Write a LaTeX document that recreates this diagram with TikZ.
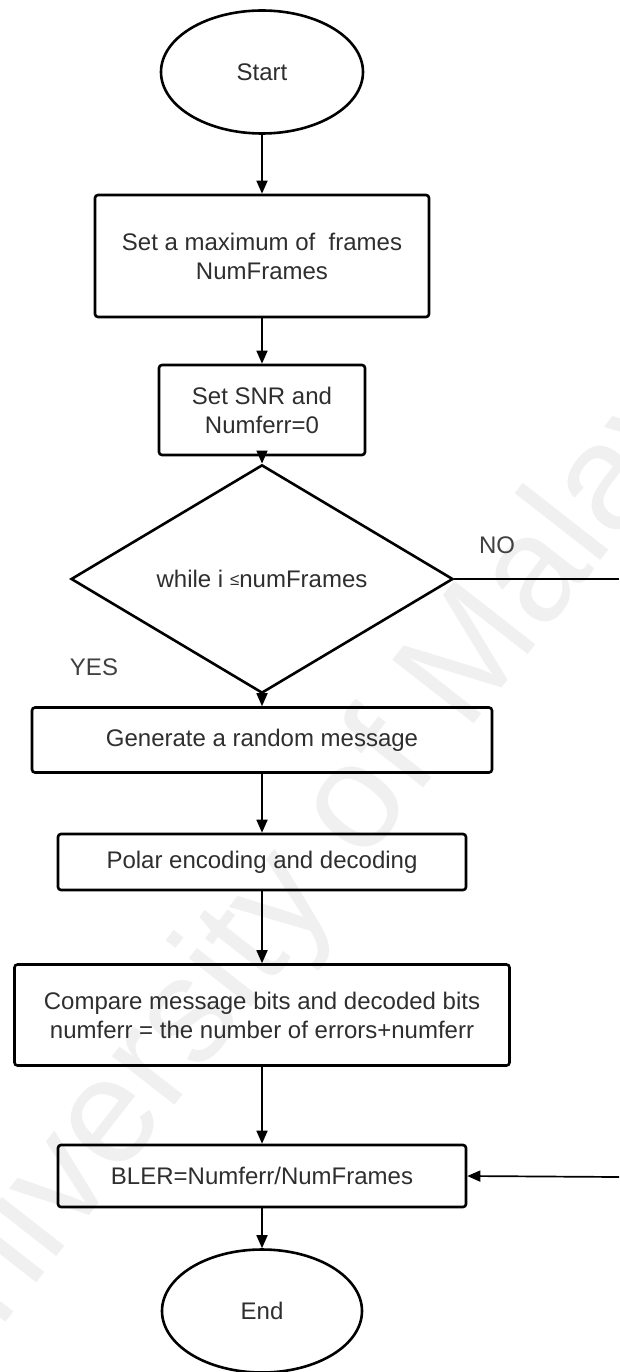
\documentclass[tikz,border=0pt]{standalone}
\usepackage{fontspec}
\setmainfont{Liberation Sans}
\usetikzlibrary{shapes.geometric,arrows.meta}

\begin{document}
\begin{tikzpicture}[x=1pt,y=-1pt,
  every node/.style={font=\fontsize{24}{29}\selectfont, text=black!82},
  proc/.style={draw, line width=2.6pt, rounded corners=3pt, inner sep=0pt, align=center},
  term/.style={draw, ellipse, line width=2.6pt, inner sep=0pt},
  decide/.style={draw, diamond, line width=2.6pt, inner sep=0pt},
  flow/.style={line width=1.7pt, -{Triangle[length=13pt,width=11pt]}},
  plain/.style={line width=1.7pt},
  branchlabel/.style={font=\fontsize{24}{29}\selectfont, text=black!75}
]
\useasboundingbox (0,0) rectangle (619,1372);

% faint background lettering
\node[rotate=52, text=black!6, font=\fontsize{150}{150}\selectfont] (wm) at (318,860) {University of Malaya};

% flow chart steps
\node[term, minimum width=202pt, minimum height=123pt] (start) at (262,72) {Start};
\node[proc, minimum width=334pt, minimum height=122pt] (frames) at (262,256) {Set a maximum of \ frames\\NumFrames};
\node[proc, minimum width=206pt, minimum height=90pt] (snr) at (262,410) {Set SNR and\\Numferr=0};
\node[decide, minimum width=382pt, minimum height=162pt] (loop) at (262,579) {while i {\fontsize{17}{17}\selectfont\raisebox{2pt}{≤}}numFrames};
\node[proc, minimum width=460pt, minimum height=65pt] (gen) at (262,740) {Generate a random message};
\node[proc, minimum width=408pt, minimum height=56pt] (polar) at (262,862) {Polar encoding and decoding};
\node[proc, minimum width=495pt, minimum height=101pt] (cmp) at (262,1015) {Compare message bits and decoded bits\\numferr = the number of errors+numferr};
\node[proc, minimum width=408pt, minimum height=62pt] (bler) at (262,1176) {BLER=Numferr/NumFrames};
\node[term, minimum width=200pt, minimum height=123pt] (stop) at (262,1311) {End};

% branch labels
\node[branchlabel] (no) at (497,545) {NO};
\node[branchlabel] (yes) at (94,667) {YES};

% connectors
\draw[flow] (start) -- (frames);
\draw[flow] (frames) -- (snr);
\draw[flow] (snr) -- (loop);
\draw[flow] (loop) -- (gen);
\draw[flow] (gen) -- (polar);
\draw[flow] (polar) -- (cmp);
\draw[flow] (cmp) -- (bler);
\draw[flow] (bler) -- (stop);

\coordinate (noExit) at (619,579);
\coordinate (noBack) at (619,1177);
\draw[plain] (loop.east) -- (noExit);
\draw[flow] (noBack) -- (bler.east);
\end{tikzpicture}
\end{document}
